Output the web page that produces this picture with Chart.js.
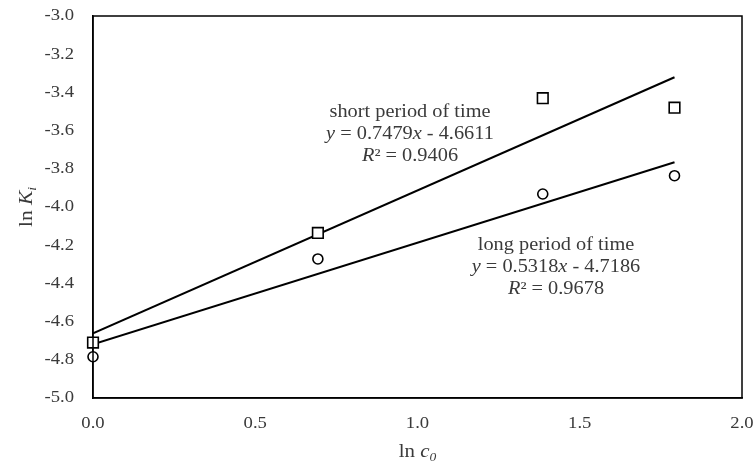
<!DOCTYPE html>
<html>
  <head>
    <title>ln Ki vs ln c0</title>
    <style>
      body { margin: 0; background: #fff; }
      .chart-container { position: relative; width: 754px; height: 466px; }
    </style>
  </head>
  <body>
    <div class="chart-container">
      <canvas id="fit-chart"></canvas>
    </div>

    <script src="https://cdn.jsdelivr.net/npm/chart.js"></script>
    <script>
      // Data
      var lnC0 = [0, 0.693, 1.386, 1.792]
      var shortTime = [-4.71, -4.136, -3.43, -3.48]
      var longTime = [-4.784, -4.272, -3.932, -3.836]
      // regression coefficients printed in the chart
      var shortFit = { slope: 0.7479, intercept: -4.6611 }
      var longFit = { slope: 0.5318, intercept: -4.7186 }
      var xTicks = [0, 0.5, 1.0, 1.5, 2.0]
      var yTicks = [-5.0, -4.8, -4.6, -4.4, -4.2, -4.0, -3.8, -3.6, -3.4, -3.2, -3.0]

      function pts(ys) {
        return lnC0.map(function (x, i) { return { x: x, y: ys[i] } })
      }
      function fitLine(f) {
        var x0 = lnC0[0], x1 = lnC0[lnC0.length - 1]
        return [{ x: x0, y: f.slope * x0 + f.intercept }, { x: x1, y: f.slope * x1 + f.intercept }]
      }

      var serif = "'Liberation Serif', 'DejaVu Serif', serif"
      var STRETCH = 1.13 // the source text is a bit wide
      var textColor = "#3a3a3a"

      // draw a run of [text, fontPrefix, size, dy] parts, stretched horizontally
      function drawParts(c, parts, x, y, align) {
        var w = 0
        parts.forEach(function (p) {
          c.font = p[1] + p[2] + "px " + serif
          p.w = c.measureText(p[0]).width * STRETCH
          w += p.w
        })
        var left = align === "center" ? x - w / 2 : align === "right" ? x - w : x
        parts.forEach(function (p) {
          c.save()
          c.font = p[1] + p[2] + "px " + serif
          c.translate(left, y + (p[3] || 0))
          c.scale(STRETCH, 1)
          c.textAlign = "left"
          c.fillText(p[0], 0, 0)
          c.restore()
          left += p.w
        })
      }

      var labelsPlugin = {
        id: "labels",
        afterDraw: function (chart) {
          var c = chart.ctx, xs = chart.scales.x, ys = chart.scales.y, a = chart.chartArea
          c.save()
          c.strokeStyle = "#000"
          c.lineWidth = 1.5
          c.strokeRect(a.left, a.top, a.right - a.left, a.bottom - a.top)

          c.fillStyle = textColor
          c.textBaseline = "middle"

          // tick labels
          yTicks.forEach(function (v) {
            drawParts(c, [[v.toFixed(1), "", 16.5]], 74, ys.getPixelForValue(v), "right")
          })
          xTicks.forEach(function (v) {
            drawParts(c, [[v.toFixed(1), "", 16.5]], xs.getPixelForValue(v), 424, "center")
          })

          // trendline annotations
          function block(cx, cy, title, coef, b, r2) {
            drawParts(c, [[title, "", 18]], cx, cy, "center")
            drawParts(c, [["y", "italic ", 18], [" = " + coef, "", 18], ["x", "italic ", 18], [" - " + b, "", 18]], cx, cy + 22, "center")
            drawParts(c, [["R", "italic ", 18], ["² = " + r2, "", 18]], cx, cy + 44, "center")
          }
          block(410, 112, "short period of time", "0.7479", "4.6611", "0.9406")
          block(556, 245, "long period of time", "0.5318", "4.7186", "0.9678")

          // x title: ln c0
          c.textBaseline = "alphabetic"
          drawParts(c, [["ln ", "", 18.5], ["c", "italic ", 18.5], ["0", "italic ", 12, 4]], (a.left + a.right) / 2, 457, "center")

          // y title: ln Ki
          c.translate(32, (a.top + a.bottom) / 2)
          c.rotate(-Math.PI / 2)
          drawParts(c, [["ln ", "", 19], ["K", "italic ", 19], ["i", "italic ", 12, 4]], 0, 0, "center")
          c.restore()
        },
      }

      var config = {
        type: "scatter",
        data: {
          datasets: [
            {
              label: "short period of time",
              data: pts(shortTime),
              pointStyle: "rect",
              pointRadius: 7.5,
              pointBackgroundColor: "#fff",
              pointBorderColor: "#000",
              pointBorderWidth: 1.6,
              clip: false,
              order: 0,
            },
            {
              label: "long period of time",
              data: pts(longTime),
              pointStyle: "circle",
              pointRadius: 5,
              pointBackgroundColor: "#fff",
              pointBorderColor: "#000",
              pointBorderWidth: 1.6,
              clip: false,
              order: 0,
            },
            {
              label: "short fit",
              type: "line",
              data: fitLine(shortFit),
              borderColor: "#000",
              borderWidth: 2,
              pointRadius: 0,
              fill: false,
              order: 1,
            },
            {
              label: "long fit",
              type: "line",
              data: fitLine(longFit),
              borderColor: "#000",
              borderWidth: 2,
              pointRadius: 0,
              fill: false,
              order: 1,
            },
          ],
        },
        options: {
          responsive: false,
          animation: false,
          layout: { padding: { left: 0, top: 16, right: 12, bottom: 0 } },
          plugins: { legend: { display: false }, tooltip: { enabled: false } },
          scales: {
            x: {
              type: "linear",
              min: 0,
              max: 2,
              afterFit: function (s) { s.height = 68 },
              grid: { display: false, drawTicks: false },
              border: { color: "#000", width: 1.5 },
              ticks: { display: false },
            },
            y: {
              type: "linear",
              min: -5,
              max: -3,
              afterFit: function (s) { s.width = 93 },
              grid: { display: false, drawTicks: false },
              border: { color: "#000", width: 1.5 },
              ticks: { display: false },
            },
          },
        },
        plugins: [labelsPlugin],
      }

      var canvas = document.getElementById("fit-chart")
      canvas.width = 754
      canvas.height = 466
      new Chart(canvas.getContext("2d"), config)
    </script>
  </body>
</html>
